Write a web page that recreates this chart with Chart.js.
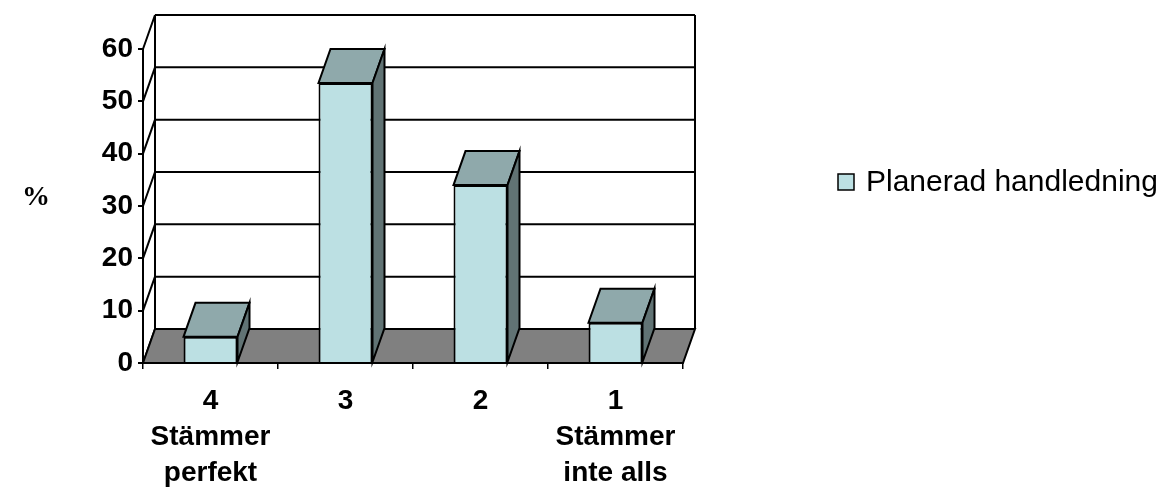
<!DOCTYPE html>
<html>
<head>
<meta charset="utf-8">
<script src="https://cdn.jsdelivr.net/npm/chart.js@4"></script>
<style>
  html, body { margin: 0; padding: 0; background: #ffffff; }
  #wrap { width: 1170px; height: 490px; position: relative; }
</style>
</head>
<body>
<div id="wrap"><canvas id="chart" width="1170" height="490"></canvas></div>
<script>
// Survey answers: share of respondents (%) per agreement level
const categories = [
  ['4', 'Stämmer', 'perfekt'],
  ['3'],
  ['2'],
  ['1', 'Stämmer', 'inte alls']
];
const seriesName = 'Planerad handledning';
const seriesValues = [5, 53.5, 34, 7.7];
const yTicks = [0, 10, 20, 30, 40, 50, 60];
const axisTitle = '%';

// Colours of the 3D column faces and the floor
const FRONT = '#bce0e3';
const TOP = '#8fa9ab';
const SIDE = '#617374';
const FLOOR = '#808080';
// Oblique depth offset of the back plane
const DEPTH_X = 12;
const DEPTH_Y = -34;

function poly(ctx, pts, fill) {
  ctx.beginPath();
  ctx.moveTo(pts[0][0], pts[0][1]);
  for (let i = 1; i < pts.length; i++) ctx.lineTo(pts[i][0], pts[i][1]);
  ctx.closePath();
  if (fill) { ctx.fillStyle = fill; ctx.fill(); }
  ctx.stroke();
}

const box3d = {
  id: 'box3d',
  beforeDatasetsDraw(chart) {
    const { ctx, chartArea, scales } = chart;
    const y = scales.y;
    const x0 = chartArea.left, x1 = chartArea.right;
    const yz = y.getPixelForValue(0);
    const yTop = y.getPixelForValue(yTicks[yTicks.length - 1]);
    ctx.save();
    ctx.strokeStyle = '#000';
    ctx.lineWidth = 2;
    ctx.lineJoin = 'miter';
    // back wall gridlines and left wall diagonals
    yTicks.forEach(v => {
      const py = y.getPixelForValue(v);
      ctx.beginPath();
      ctx.moveTo(x0 + DEPTH_X, py + DEPTH_Y);
      ctx.lineTo(x1 + DEPTH_X, py + DEPTH_Y);
      ctx.stroke();
      ctx.beginPath();
      ctx.moveTo(x0, py);
      ctx.lineTo(x0 + DEPTH_X, py + DEPTH_Y);
      ctx.stroke();
    });
    // back wall verticals
    ctx.beginPath();
    ctx.moveTo(x0 + DEPTH_X, yTop + DEPTH_Y);
    ctx.lineTo(x0 + DEPTH_X, yz + DEPTH_Y);
    ctx.moveTo(x1 + DEPTH_X, yTop + DEPTH_Y);
    ctx.lineTo(x1 + DEPTH_X, yz + DEPTH_Y);
    ctx.stroke();
    // floor
    poly(ctx, [[x0, yz], [x1, yz], [x1 + DEPTH_X, yz + DEPTH_Y], [x0 + DEPTH_X, yz + DEPTH_Y]], FLOOR);
    ctx.restore();
  },
  afterDatasetsDraw(chart) {
    const { ctx } = chart;
    const meta = chart.getDatasetMeta(0);
    ctx.save();
    ctx.strokeStyle = '#000';
    ctx.lineWidth = 2;
    ctx.lineJoin = 'miter';
    meta.data.forEach(bar => {
      const p = bar.getProps(['x', 'y', 'base', 'width'], true);
      const l = p.x - p.width / 2, r = p.x + p.width / 2;
      poly(ctx, [[l, p.y], [r, p.y], [r + DEPTH_X, p.y + DEPTH_Y], [l + DEPTH_X, p.y + DEPTH_Y]], TOP);
      poly(ctx, [[r, p.y], [r + DEPTH_X, p.y + DEPTH_Y], [r + DEPTH_X, p.base + DEPTH_Y], [r, p.base]], SIDE);
    });
    ctx.restore();
  },
  afterDraw(chart) {
    const { ctx, scales } = chart;
    ctx.save();
    // axis title
    ctx.fillStyle = '#000';
    ctx.font = 'bold 28px "Liberation Serif", "DejaVu Serif", serif';
    ctx.textAlign = 'center';
    ctx.textBaseline = 'middle';
    ctx.fillText(axisTitle, 36, scales.y.getPixelForValue(31.5));
    // legend
    const ds = chart.data.datasets[0];
    ctx.fillStyle = ds.backgroundColor;
    ctx.strokeStyle = '#000';
    ctx.lineWidth = 1.5;
    ctx.fillRect(838, 174, 16, 16);
    ctx.strokeRect(838, 174, 16, 16);
    ctx.fillStyle = '#000';
    ctx.font = '30px "Liberation Sans", Arial, sans-serif';
    ctx.textAlign = 'left';
    ctx.textBaseline = 'middle';
    ctx.fillText(ds.label, 866, 183);
    ctx.restore();
  }
};

const tickFont = { family: '"Liberation Sans", Arial, sans-serif', weight: 'bold', size: 28 };

new Chart(document.getElementById('chart'), {
  type: 'bar',
  data: {
    labels: categories,
    datasets: [{
      label: seriesName,
      data: seriesValues,
      backgroundColor: FRONT,
      borderColor: '#000',
      borderWidth: 2,
      barPercentage: 0.4,
      categoryPercentage: 1.0
    }]
  },
  options: {
    responsive: false,
    animation: false,
    layout: { padding: { top: 49, right: 487, bottom: 0, left: 0 } },
    plugins: { legend: { display: false }, tooltip: { enabled: false } },
    scales: {
      x: {
        offset: true,
        grid: { display: true, drawOnChartArea: false, drawTicks: true, tickLength: 6, color: '#000', lineWidth: 1.5, offset: true },
        border: { display: true, color: '#000', width: 2 },
        ticks: { color: '#000', font: { ...tickFont, lineHeight: '36px' }, padding: 14, maxRotation: 0, autoSkip: false },
        afterFit(scale) { scale.height = 127; }
      },
      y: {
        min: 0,
        max: 60,
        grid: { display: true, drawOnChartArea: false, drawTicks: true, tickLength: 5, color: '#000', lineWidth: 2 },
        border: { display: true, color: '#000', width: 2 },
        ticks: { color: '#000', font: tickFont, padding: 5, stepSize: 10, callback: (v) => yTicks.includes(v) ? String(v) : '' },
        afterFit(scale) { scale.width = 143; }
      }
    }
  },
  plugins: [box3d]
});
</script>
</body>
</html>
